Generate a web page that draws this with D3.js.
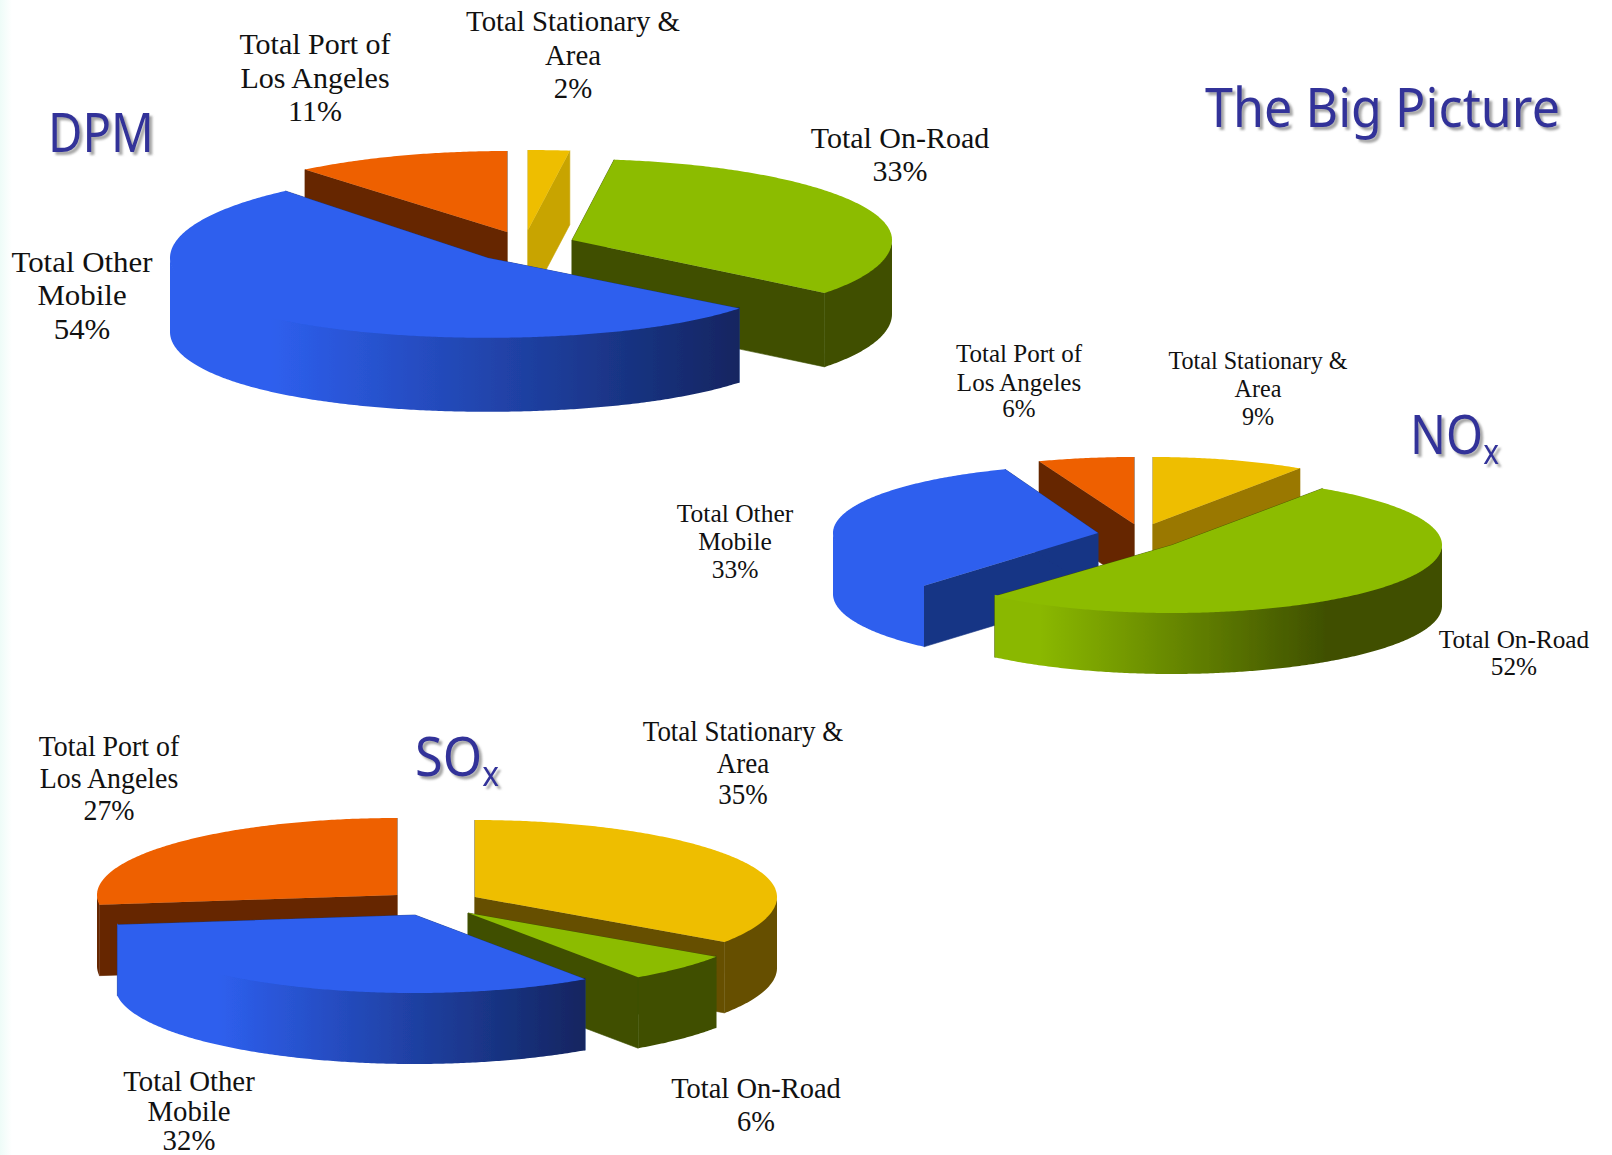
<!DOCTYPE html>
<html><head><meta charset="utf-8">
<script src="https://cdnjs.cloudflare.com/ajax/libs/d3/7.8.5/d3.min.js"></script>
<style>html,body{margin:0;padding:0;background:#fff}svg{display:block}</style>
</head><body><svg id="c" width="1612" height="1155"></svg>
<script>
// ---------- data (clockwise from 12 o'clock; labels show them rounded) ----------
const categories = ["Total Stationary & Area", "Total On-Road", "Total Other Mobile", "Total Port of Los Angeles"];
const dpmValues = [2.1, 33.4, 53.5, 11];
const noxValues = [9.4, 52, 32.9, 5.7];
const soxValues = [34.5, 5.9, 32.6, 27];
const topColors  = ["#eebe00", "#8cbc00", "#2e5fee", "#ee6000"];

// ---------- layout (per slice: apex x, apex y, rx, ry back, ry front) ----------
const dpmGeom = [[528,230,318,80,84],[572,240,320,81,88],[488,258,318,87,84],[507,232,317,81,81]];
const noxGeom = [[1153,524,264,67,67],[1172,545,270,68,68],[1098,533,265,68,70],[1134,524,271,67,67]];
const soxGeom = [[475,897,302,77,80],[468,913,300,78,78],[415,915,300,78,78],[397,895,300,77,77]];
const charts = [
  {name:"dpm", values:dpmValues, geom:dpmGeom, depth:74, flat:0.05, order:[3,0,1,2],
   cut:["#c8a400","#3f5000","#183585","#662800"],
   wall:["#665000","#3f5000",{x1:271,x2:741,from:"#2e5fee",to:"#122560"},"#662800"]},
  {name:"nox", values:noxValues, geom:noxGeom, depth:61, flat:0, order:[3,0,2,1],
   cut:["#9a7800","#3f5000","#183585","#662800"],
   wall:["#665000",{x1:1040,x2:1326,from:"#8ab800",to:"#3f5000"},"#2e5fee","#662800"]},
  {name:"sox", values:soxValues, geom:soxGeom, depth:71, flat:0, order:[3,0,1,2],
   cut:["#665000","#3f5000","#183585","#662800"],
   wall:["#665000","#3f5000",{x1:218,x2:585,from:"#2e5fee",to:"#122560"},"#662800"]}
];
// label: lines, centre x, baselines, font size, horizontal scale, word spacing
const labels = [
  [["Total Port of","Los Angeles","11%"],315,[54,88,121],30,1,0],
  [["Total Stationary &","Area","2%"],573,[31,65,98],30,0.96,0],
  [["Total On-Road","33%"],900,[148,181],30,1,0],
  [["Total Other","Mobile","54%"],82,[272,305,339],30,1.03,0],
  [["Total Port of","Los Angeles","6%"],1019,[362,391,417],25,1,0],
  [["Total Stationary &","Area","9%"],1258,[369,397,425],25,0.965,0],
  [["Total Other","Mobile","33%"],735,[522,550,578],25,1.02,0],
  [["Total On-Road","52%"],1514,[648,675],25,1.01,0],
  [["Total Port of","Los Angeles","27%"],109,[756,788,820],30,0.93,0],
  [["Total Stationary &","Area","35%"],743,[741,773,804],30,0.9,0],
  [["Total Other","Mobile","32%"],189,[1091,1121,1150],30,0.96,0],
  [["Total On-Road","6%"],756,[1098,1131],30,0.95,0]
];
const titles = [
  {text:"The Big Picture",sub:null,x:1205,y:127,w:355},
  {text:"DPM",sub:null,x:48,y:152,w:106},
  {text:"NO",sub:"x",x:1410,y:454,w:89},
  {text:"SO",sub:"x",x:415,y:776,w:84}
];

const svg = d3.select("#c");
const defs = svg.append("defs");
svg.append("rect").attr("width",1612).attr("height",1155).attr("fill","#fff");
const edge = defs.append("linearGradient").attr("id","edge");
edge.append("stop").attr("offset",0).attr("stop-color","#eefcf8");
edge.append("stop").attr("offset",1).attr("stop-color","#fff");
svg.append("rect").attr("width",12).attr("height",1155).attr("fill","url(#edge)");
defs.append("filter").attr("id","soft").attr("x","-2%").attr("y","-2%").attr("width","104%").attr("height","104%")
  .append("feGaussianBlur").attr("stdDeviation",0.55);
const shadow = defs.append("filter").attr("id","shadow").attr("x","-5%").attr("y","-10%").attr("width","115%").attr("height","130%");
shadow.append("feDropShadow").attr("dx",3).attr("dy",3).attr("stdDeviation",1.2)
  .attr("flood-color","#777").attr("flood-opacity",0.65);

const pie = d3.pie().sort(null).value(d=>d).startAngle(0).endAngle(2*Math.PI);
const line = d3.line();

charts.forEach(ch => {
  const arcs = pie(ch.values);
  const g = svg.append("g").attr("class",ch.name).attr("filter","url(#soft)");
  ch.order.forEach(i => {
    const a = arcs[i], [cx,cy,rx,ryB,ryF] = ch.geom[i];
    const sx = d3.scaleLinear([-1,1],[cx-rx,cx+rx]);
    const syB = d3.scaleLinear([0,1],[cy,cy-ryB]);
    const syF = d3.scaleLinear([-1,0],[cy+ryF,cy]);
    const pt = t => {
      const u = Math.sin(t), v = Math.cos(t);
      return [sx(u), v>=0 ? syB(v) : syF(v*(1-ch.flat*v*v))];
    };
    const apex = [cx,cy];
    const sample = (t0,t1) => { const n=Math.max(2,Math.ceil((t1-t0)/0.01)); return d3.range(n+1).map(k=>pt(t0+(t1-t0)*k/n)); };
    const down = p => [p[0],p[1]+ch.depth];
    const quad = (p,q) => line([p,q,down(q),down(p)])+"Z";
    // cut faces
    [a.startAngle,a.endAngle].forEach(t=>{
      g.append("path").attr("d",quad(apex,pt(t))).attr("fill",ch.cut[i]).attr("stroke",ch.cut[i]).attr("stroke-width",0.6);
    });
    // outer wall, front part only
    const t0=Math.max(a.startAngle,Math.PI/2), t1=Math.min(a.endAngle,3*Math.PI/2);
    if(t1>t0){
      const rim=sample(t0,t1);
      let fill=ch.wall[i];
      if(typeof fill!=="string"){
        const id=ch.name+"w"+i;
        const lg=defs.append("linearGradient").attr("id",id).attr("gradientUnits","userSpaceOnUse")
          .attr("x1",fill.x1).attr("x2",fill.x2).attr("y1",0).attr("y2",0);
        lg.append("stop").attr("offset",0).attr("stop-color",fill.from);
        lg.append("stop").attr("offset",1).attr("stop-color",fill.to);
        fill="url(#"+id+")";
      }
      const up=rim.map(p=>[p[0],p[1]-1.5]);
      g.append("path").attr("d",line(up.concat(rim.slice().reverse().map(down)))+"Z").attr("fill",fill);
    }
    // top face
    g.append("path").attr("d",line([apex].concat(sample(a.startAngle,a.endAngle)))+"Z").attr("fill",topColors[i]);
  });
});

// labels
const lg = svg.append("g").attr("font-family","'Liberation Serif',serif").attr("fill","#111").attr("text-anchor","middle");
labels.forEach(([lines,x,ys,fs,hs,ws])=>{
  lines.forEach((t,k)=>{
    lg.append("text").attr("transform",`translate(${x},${ys[k]}) scale(${hs},1)`)
      .attr("font-size",fs).attr("word-spacing",ws).text(t);
  });
});

// titles with soft drop shadow
const tg = svg.append("g").attr("font-family","'Noto Sans',sans-serif").attr("font-size",54);
titles.forEach(t=>{
  const el=tg.append("text").attr("x",t.x).attr("y",t.y).attr("fill","#333399").attr("filter","url(#shadow)")
    .attr("textLength",t.w).attr("lengthAdjust","spacingAndGlyphs").text(t.text);
  if(t.sub) el.append("tspan").attr("font-size",34).attr("dy",10).text(t.sub);
});
</script></body></html>
